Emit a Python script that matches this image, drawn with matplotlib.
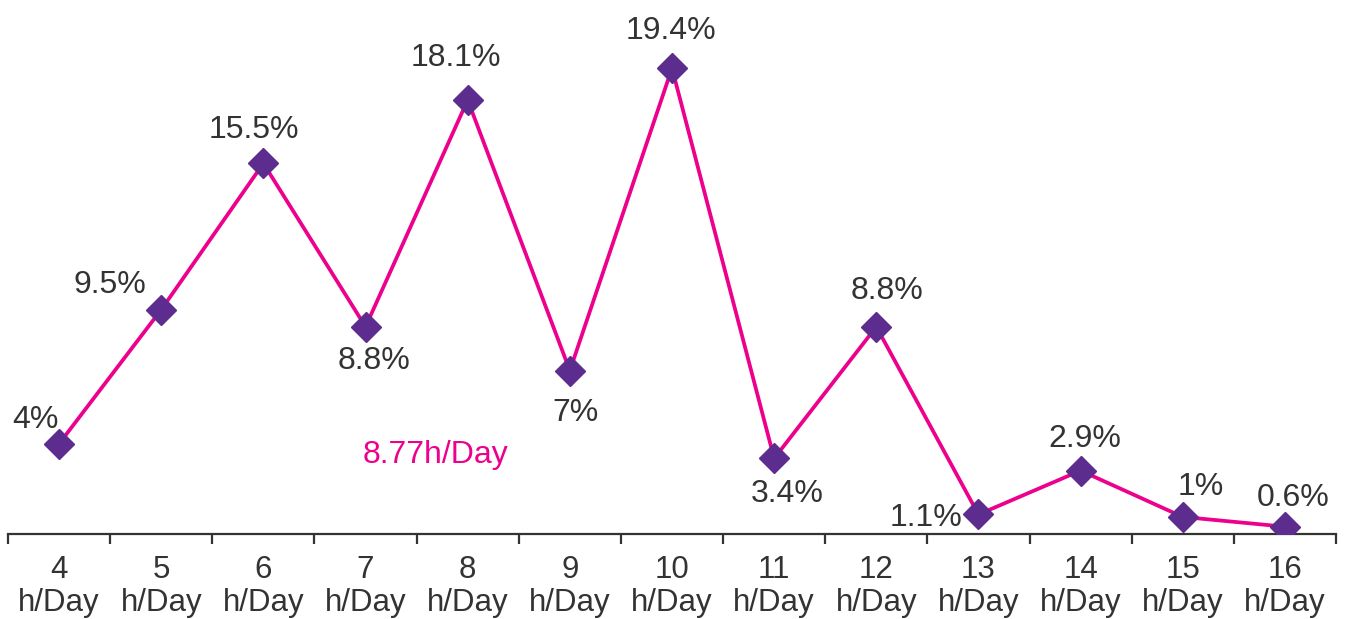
import matplotlib.pyplot as plt
from matplotlib import rcParams
import matplotlib.ticker as ticker
import numpy as np

rcParams['font.family'] = ['Liberation Sans', 'DejaVu Sans']

# Data
hours = [4, 5, 6, 7, 8, 9, 10, 11, 12, 13, 14, 15, 16]
share = [4, 9.5, 15.5, 8.8, 18.1, 7, 19.4, 3.4, 8.8, 1.1, 2.9, 1, 0.6]
value_labels = ['4%', '9.5%', '15.5%', '8.8%', '18.1%', '7%', '19.4%',
                '3.4%', '8.8%', '1.1%', '2.9%', '1%', '0.6%']
average_label = '8.77h/Day'

# label offsets in pixels (dx, dy) relative to each point
label_offsets = [(-24, 24), (-51, 25), (-10, 33), (8, -34), (-12, 42), (6, -42),
                 (-1, 37), (13, -36), (11, 36), (-52, -4), (4, 32), (18, 30), (8, 29)]

line_color = '#EC008C'
marker_color = '#5C2D8E'
text_color = '#333333'

fig = plt.figure(figsize=(13.46, 6.19), dpi=100)
fig.patch.set_facecolor('white')
ax = fig.add_axes([8 / 1346, 85 / 619, 1328 / 1346, 534 / 619])

x = np.arange(len(hours))
ax.plot(x, share, color=line_color, linewidth=2.7, zorder=2)
ax.plot(x, share, linestyle='none', marker='D', markersize=15,
        color=marker_color, zorder=3)

for xi, yi, lab, (dx, dy) in zip(x, share, value_labels, label_offsets):
  ax.annotate(lab, (xi, yi), xytext=(dx, dy), textcoords='offset pixels',
              ha='center', va='center', fontsize=23, color=text_color)

ax.set_xlim(-0.5, len(hours) - 0.5)
ax.set_ylim(0.3, 22.2)

for side in ['top', 'right', 'left']:
  ax.spines[side].set_visible(False)
ax.spines['bottom'].set_color(text_color)
ax.spines['bottom'].set_linewidth(1.6)

ax.set_yticks([])
ax.set_xticks(x)
ax.set_xticklabels(['%d\nh/Day' % h for h in hours], fontsize=22.5,
                   color=text_color, linespacing=1.15)
ax.tick_params(axis='x', which='major', length=0, pad=15)
ax.xaxis.set_minor_locator(ticker.FixedLocator(np.arange(-0.5, len(hours), 1)))
ax.tick_params(axis='x', which='minor', length=7.5, width=1.6,
               color=text_color, direction='out')

fig.text(435 / 1346, 1 - 455 / 619, average_label, ha='center', va='center',
         fontsize=23, color=line_color)

fig.savefig('out.png', dpi=100, facecolor='white')
